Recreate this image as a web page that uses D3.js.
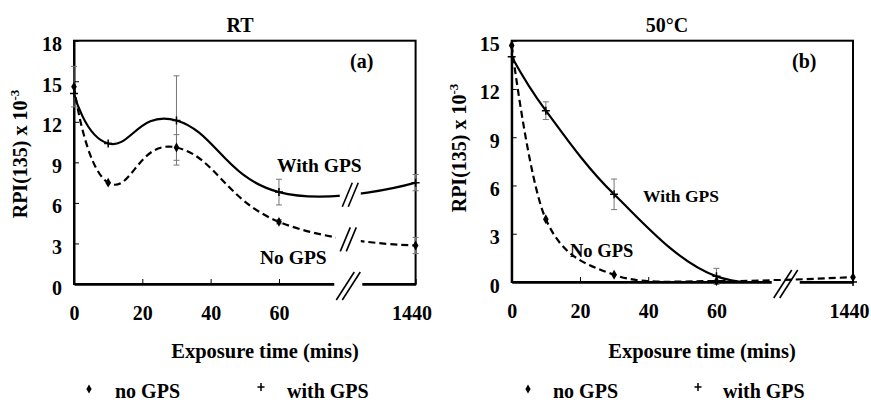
<!DOCTYPE html>
<html lang="en">
  <head>
    <meta charset="UTF-8" />
    <title>RPI(135) vs exposure time</title>
    <script src="https://d3js.org/d3.v7.min.js"></script>
    <style>
      body { margin: 0; background: #fff; }
      svg text { font-family: "Liberation Serif", "Times New Roman", serif; font-weight: bold; fill: #000; }
    </style>
  </head>
  <body>
    <svg width="871" height="402"></svg>
    <script>
      // exposure times (mins); 1440 sits after the axis break
      let times = [0, 10, 30, 60, 1440];
      let xTicks = [0, 20, 40, 60, 1440];

      // (a) room temperature
      let rtNoGps = [14.6, 7.5, 10.1, 4.6, 2.85];
      let rtNoGpsErr = [1.5, 0, 0.95, 0.15, 0.6];
      let rtWithGps = [14.1, 10.4, 12.1, 6.8, 7.5];
      let rtWithGpsErr = [0, 0, 3.3, 0.95, 0.6];

      // (b) 50 C
      let hotNoGps = [14.7, 3.9, 0.45, 0.05, 0.3];
      let hotNoGpsErr = [0, 0, 0, 0, 0];
      let hotWithGps = [14.0, 10.65, 5.45, 0.35, 0];
      let hotWithGpsErr = [0, 0.55, 0.95, 0.5, 0];

      let svg = d3.select("svg");

      let panels = [
        {
          id: "a", title: "RT", tag: "(a)", yMax: 18, tension: -0.35,
          left: 74, right: 415.6, top: 40.7, bottom: 284,
          titleX: 240, tagX: 350, yTitleX: 27, yTitleY: 154, xTitleX: 265,
          noGps: rtNoGps, noGpsErr: rtNoGpsErr, withGps: rtWithGps, withGpsErr: rtWithGpsErr,
          withLabel: { x: 277, y: 172, size: 19.5 }, noLabel: { x: 260, y: 263.5, size: 19.5 },
          curveBreaks: true,
          legend: { dia: 89, noText: 115, plus: 261, withText: 287 }
        },
        {
          id: "b", title: "50°C", tag: "(b)", yMax: 15, tension: 0,
          left: 511.7, right: 853, top: 40.7, bottom: 282,
          titleX: 667, tagX: 792, yTitleX: 466, yTitleY: 148, xTitleX: 702,
          noGps: hotNoGps, noGpsErr: hotNoGpsErr, withGps: hotWithGps, withGpsErr: hotWithGpsErr,
          withLabel: { x: 643, y: 201.7, size: 17.5 }, noLabel: { x: 570, y: 257.3, size: 18.5 },
          curveBreaks: false,
          legend: { dia: 528, noText: 553, plus: 698, withText: 723 }
        }
      ];

      function slashes(g, cx, cy, dx, dy, gapW, gapH) {
        g.append("rect")
          .attr("x", cx - gapW / 2).attr("y", cy - gapH / 2)
          .attr("width", gapW).attr("height", gapH)
          .attr("fill", "#fff");
        [-3, 3].forEach((off) => {
          g.append("line")
            .attr("x1", cx + off - dx / 2).attr("y1", cy + dy / 2)
            .attr("x2", cx + off + dx / 2).attr("y2", cy - dy / 2)
            .attr("stroke", "#000").attr("stroke-width", 1.6);
        });
      }

      // y of a drawn path at a given x (binary search along the path)
      function pathYAt(node, px) {
        let len = node.getTotalLength(), lo = 0, hi = len;
        for (let i = 0; i < 40; i++) {
          let mid = (lo + hi) / 2;
          if (node.getPointAtLength(mid).x < px) lo = mid; else hi = mid;
        }
        return node.getPointAtLength(lo).y;
      }

      panels.forEach((p) => {
        let g = svg.append("g").attr("id", "panel-" + p.id);

        let x = d3.scaleLinear()
          .domain([0, 80, 1440])
          .range([p.left, p.left + 0.8 * (p.right - p.left), p.right]);
        let y = d3.scaleLinear().domain([0, p.yMax]).range([p.bottom, p.top]);

        g.append("clipPath").attr("id", "clip-" + p.id)
          .append("rect")
          .attr("x", p.left).attr("y", p.top)
          .attr("width", p.right - p.left).attr("height", p.bottom - p.top);

        // frame
        g.append("rect")
          .attr("x", p.left).attr("y", p.top)
          .attr("width", p.right - p.left).attr("height", p.bottom - p.top)
          .attr("fill", "none").attr("stroke", "#000").attr("stroke-width", 2);

        // axes
        let xAxis = g.append("g")
          .attr("transform", `translate(0,${p.bottom})`)
          .call(d3.axisBottom(x).tickValues(xTicks).tickFormat(d3.format("d"))
            .tickSizeInner(-5).tickSizeOuter(0).tickPadding(22));
        xAxis.select(".domain").attr("stroke-width", 2.6);
        xAxis.selectAll(".tick line").attr("stroke-width", 1);
        xAxis.selectAll("text").attr("font-size", 20).attr("font-family", null)
          .attr("dx", (d) => (d === 1440 ? -4 : 0));

        let yAxis = g.append("g")
          .attr("transform", `translate(${p.left},0)`)
          .call(d3.axisLeft(y).tickValues(d3.range(0, p.yMax + 1, 3))
            .tickSizeInner(-5).tickSizeOuter(0).tickPadding(12));
        yAxis.select(".domain").attr("stroke-width", 2);
        yAxis.selectAll(".tick line").attr("stroke-width", 1);
        yAxis.selectAll("text").attr("font-size", 20).attr("font-family", null).attr("dy", "0.5em");

        let plot = g.append("g").attr("clip-path", `url(#clip-${p.id})`);

        // error bars
        let bars = [];
        times.forEach((t, i) => {
          bars.push({ t: t, v: p.noGps[i], e: p.noGpsErr[i] });
          bars.push({ t: t, v: p.withGps[i], e: p.withGpsErr[i] });
        });
        bars = bars.filter((d) => d.e > 0);
        let eb = g.append("g").attr("stroke", "#777").attr("stroke-width", 1);
        eb.selectAll("line.v").data(bars).join("line")
          .attr("x1", (d) => x(d.t)).attr("x2", (d) => x(d.t))
          .attr("y1", (d) => y(d.v + d.e)).attr("y2", (d) => y(d.v - d.e));
        eb.selectAll("line.c1").data(bars).join("line")
          .attr("x1", (d) => x(d.t) - 3).attr("x2", (d) => x(d.t) + 3)
          .attr("y1", (d) => y(d.v + d.e)).attr("y2", (d) => y(d.v + d.e));
        eb.selectAll("line.c2").data(bars).join("line")
          .attr("x1", (d) => x(d.t) - 3).attr("x2", (d) => x(d.t) + 3)
          .attr("y1", (d) => y(d.v - d.e)).attr("y2", (d) => y(d.v - d.e));

        // smoothed lines
        let line = d3.line()
          .x((d) => x(d.t)).y((d) => y(d.v))
          .curve(d3.curveCardinal.tension(p.tension));
        let withPts = times.map((t, i) => ({ t: t, v: p.withGps[i] }));
        let noPts = times.map((t, i) => ({ t: t, v: p.noGps[i] }));

        let withPath = plot.append("path").datum(withPts).attr("d", line)
          .attr("fill", "none").attr("stroke", "#000").attr("stroke-width", 2.2);
        let noPath = plot.append("path").datum(noPts).attr("d", line)
          .attr("fill", "none").attr("stroke", "#000").attr("stroke-width", 2.2)
          .attr("stroke-dasharray", "7,4");

        // axis break
        let bx = x(80);
        if (p.curveBreaks) {
          slashes(g, bx + 3, pathYAt(withPath.node(), bx + 3), 10, 24, 21, 12);
          slashes(g, bx + 1, pathYAt(noPath.node(), bx + 1), 10, 24, 25, 12);
        }
        slashes(g, bx + 1, p.bottom + 2, 18, 28, 28, 6);

        // markers
        g.append("g").selectAll("path").data(noPts).join("path")
          .attr("transform", (d) => `translate(${x(d.t)},${y(d.v)})`)
          .attr("d", d3.symbol(d3.symbolDiamond, 28))
          .attr("fill", "#000");
        g.append("g").selectAll("path").data(withPts).join("path")
          .attr("transform", (d) => `translate(${x(d.t)},${y(d.v)})`)
          .attr("d", "M-4,0H4M0,-4V4")
          .attr("stroke", "#000").attr("stroke-width", 1.5);

        // texts
        g.append("text").attr("x", p.titleX).attr("y", 31.5)
          .attr("text-anchor", "middle").attr("font-size", 20).text(p.title);
        g.append("text").attr("x", p.tagX).attr("y", 68)
          .attr("font-size", 20).text(p.tag);
        g.append("text").attr("x", p.withLabel.x).attr("y", p.withLabel.y)
          .attr("font-size", p.withLabel.size).text("With GPS");
        g.append("text").attr("x", p.noLabel.x).attr("y", p.noLabel.y)
          .attr("font-size", p.noLabel.size).text("No GPS");

        g.append("text").attr("x", p.xTitleX).attr("y", 358)
          .attr("text-anchor", "middle").attr("font-size", 20.5)
          .text("Exposure time (mins)");

        let yt = g.append("text")
          .attr("transform", `translate(${p.yTitleX},${p.yTitleY}) rotate(-90)`)
          .attr("text-anchor", "middle").attr("font-size", 20);
        yt.append("tspan").text("RPI(135) x 10");
        yt.append("tspan").attr("font-size", 13).attr("dy", -8).text("-3");

        // legend
        let lg = g.append("g");
        lg.append("path")
          .attr("transform", `translate(${p.legend.dia},389)`)
          .attr("d", d3.symbol(d3.symbolDiamond, 24)).attr("fill", "#000");
        lg.append("text").attr("x", p.legend.noText).attr("y", 398)
          .attr("font-size", 20).text("no GPS");
        lg.append("path")
          .attr("transform", `translate(${p.legend.plus},387)`)
          .attr("d", "M-3.5,0H3.5M0,-4V4")
          .attr("stroke", "#000").attr("stroke-width", 1.5);
        lg.append("text").attr("x", p.legend.withText).attr("y", 398)
          .attr("font-size", 20).text("with GPS");
      });
    </script>
  </body>
</html>
